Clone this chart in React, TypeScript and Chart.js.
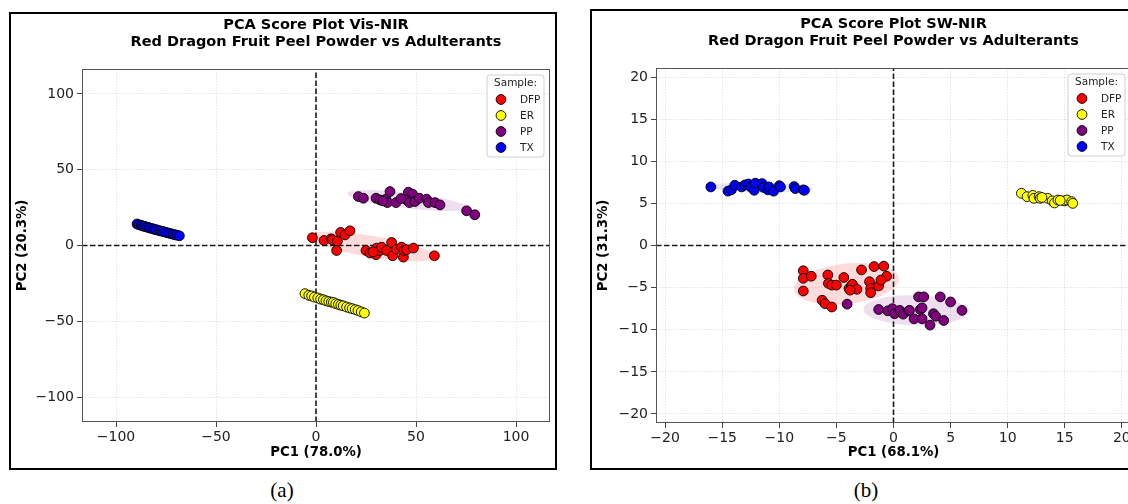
import React, { useEffect, useRef } from 'react';
import { Chart, registerables } from 'chart.js';

Chart.register(...registerables);

const FONT = "'DejaVu Sans', sans-serif";

const sampleNames = ['DFP', 'ER', 'PP', 'TX'];
const sampleColors = ['#ff0000', '#ffff00', '#800080', '#0000ff'];
const ellipseFills = ['rgba(255,0,0,0.14)', 'rgba(255,255,0,0.15)', 'rgba(128,0,128,0.13)', 'rgba(0,0,255,0.10)'];

// ---------- Panel (a): Vis-NIR ----------
const visTitle = ['PCA Score Plot Vis-NIR', 'Red Dragon Fruit Peel Powder vs Adulterants'];
const visXLabel = 'PC1 (78.0%)';
const visYLabel = 'PC2 (20.3%)';
const visXTicks = [-100, -50, 0, 50, 100];
const visYTicks = [-100, -50, 0, 50, 100];
const visXLim = [-117, 117];
const visYLim = [-116.5, 116.5];

const visDfpX = [-1.8, 4, 7.5, 8.2, 10.7, 10.3, 12.3, 14.5, 17, 25, 27, 30.3, 30, 32, 32.8, 35.3, 37.8, 38.3, 40.3, 42.8, 43.7, 44, 45.3, 48.7, 59.2, 28.5];
const visDfpY = [5.1, 3.3, 4.4, 3.8, 2.9, -3.3, 8.6, 7, 9.7, -3.3, -5, -1.7, -6.1, -3.3, -1.1, -3.3, 2, -6.8, -2.4, -1.1, -7.7, -3.3, -2.8, -1.7, -6.8, -4.2];
const visErX = [-5.5, -3.6, -2.2, -0.8, 0.9, 2.3, 3.7, 5.0, 6.4, 7.7, 8.7, 9.9, 11.2, 12.4, 13.6, 15.3, 16.8, 18.1, 19.6, 21.0, 22.6, 24.2];
const visErY = [-31.8, -32.9, -33.3, -34.1, -34.6, -35.4, -35.8, -36.5, -37.0, -37.4, -37.6, -38.4, -38.9, -39.4, -39.8, -40.6, -41.2, -41.7, -42.3, -42.9, -43.8, -44.6];
const visPpX = [21.2, 23.7, 30, 32, 35, 37, 35.7, 40, 46.2, 48.3, 45.3, 46.7, 49.5, 51.7, 55.3, 56.2, 59.5, 62, 75.3, 79.4, 33.5, 42.5];
const visPpY = [32.3, 31.2, 31.2, 30.1, 30.6, 35.6, 28.3, 28.3, 35.2, 33.9, 30.1, 28.3, 29, 31.2, 30.6, 28.3, 28.3, 26.8, 22.9, 20.3, 29.4, 31.0];
const visTxX = [-89.5, -88.4, -87.3, -86.5, -85.6, -84.6, -83.5, -82.8, -81.6, -80.7, -79.8, -78.6, -77.4, -76.3, -75.1, -74.0, -72.8, -71.6, -70.6, -69.5, -68.3];
const visTxY = [14.2, 13.6, 13.3, 12.8, 12.6, 12.1, 11.8, 11.4, 11.1, 10.6, 10.4, 9.9, 9.5, 9.2, 8.7, 8.3, 7.9, 7.5, 7.1, 6.8, 6.4];

// ---------- Panel (b): SW-NIR ----------
const swTitle = ['PCA Score Plot SW-NIR', 'Red Dragon Fruit Peel Powder vs Adulterants'];
const swXLabel = 'PC1 (68.1%)';
const swYLabel = 'PC2 (31.3%)';
const swXTicks = [-20, -15, -10, -5, 0, 5, 10, 15, 20];
const swYTicks = [-20, -15, -10, -5, 0, 5, 10, 15, 20];
const swXLim = [-20.8, 20.8];
const swYLim = [-21.07, 21.07];

const swDfpX = [-7.9, -7.9, -7.2, -7.9, -6.25, -6.0, -5.4, -5.75, -5.7, -5.4, -5.0, -4.35, -3.9, -3.7, -3.6, -3.2, -2.8, -2.1, -2.0, -1.7, -1.3, -0.85, -0.6, -1.1, -3.8, -2.0];
const swDfpY = [-3.0, -3.9, -3.65, -5.4, -6.5, -6.9, -7.3, -3.5, -4.5, -4.7, -4.7, -3.8, -5.1, -4.8, -4.6, -5.2, -2.9, -4.3, -5.1, -2.5, -4.8, -2.45, -3.65, -4.1, -5.3, -5.6];
const swErX = [11.2, 11.7, 12.2, 12.3, 12.75, 12.85, 13.5, 13.9, 14.1, 14.4, 14.95, 15.2, 15.6, 15.7, 13.0, 14.6];
const swErY = [6.2, 5.8, 5.95, 5.6, 5.8, 5.6, 5.6, 5.3, 5.05, 5.4, 5.3, 5.4, 5.2, 5.0, 5.7, 5.35];
const swPpX = [-4.06, -1.3, -0.5, -0.1, 0.1, 0.55, 0.85, 1.35, 1.8, 2.2, 2.35, 2.5, 2.65, 3.2, 3.5, 3.7, 4.1, 4.4, 5.0, 6.0, 2.5, 1.4];
const swPpY = [-6.96, -7.6, -7.75, -7.5, -8.1, -7.7, -8.15, -7.75, -8.7, -6.1, -7.6, -8.7, -6.1, -9.45, -8.1, -8.4, -6.1, -8.9, -6.7, -7.7, -7.4, -7.7];
const swTxX = [-16.0, -14.5, -14.2, -13.9, -13.3, -13.0, -12.7, -12.5, -12.2, -12.1, -11.5, -11.4, -11.0, -10.9, -10.5, -10.0, -9.9, -8.7, -8.6, -7.9, -7.8];
const swTxY = [6.95, 6.45, 6.6, 7.15, 6.95, 7.2, 7.3, 6.95, 6.55, 7.4, 7.35, 6.9, 6.6, 6.95, 6.45, 7.1, 6.95, 7.0, 6.75, 6.6, 6.55];

type Series = { x: number[]; y: number[] };
type PanelCfg = {
  title: string[];
  xLabel: string;
  yLabel: string;
  xTicks: number[];
  yTicks: number[];
  xLim: number[];
  yLim: number[];
  series: Series[];
  yAxisWidth: number;
  xAxisHeight: number;
  padTop: number;
};

const visCfg: PanelCfg = {
  title: visTitle, xLabel: visXLabel, yLabel: visYLabel,
  xTicks: visXTicks, yTicks: visYTicks, xLim: visXLim, yLim: visYLim,
  series: [
    { x: visDfpX, y: visDfpY },
    { x: visErX, y: visErY },
    { x: visPpX, y: visPpY },
    { x: visTxX, y: visTxY },
  ],
  yAxisWidth: 71, xAxisHeight: 46, padTop: 55,
};

const swCfg: PanelCfg = {
  title: swTitle, xLabel: swXLabel, yLabel: swYLabel,
  xTicks: swXTicks, yTicks: swYTicks, xLim: swXLim, yLim: swYLim,
  series: [
    { x: swDfpX, y: swDfpY },
    { x: swErX, y: swErY },
    { x: swPpX, y: swPpY },
    { x: swTxX, y: swTxY },
  ],
  yAxisWidth: 64, xAxisHeight: 45, padTop: 57,
};

const fmtTick = (v: any) => {
  const n = Number(v);
  return n < 0 ? '\u2212' + Math.abs(n) : String(n);
};

const N_STD = 2;
const POINT_R = 4.9;

function makeDecorPlugin(cfg: PanelCfg) {
  return {
    id: 'panelDecor',
    beforeDatasetsDraw(chart: any) {
      const { ctx, chartArea: ca } = chart;
      const xs = chart.scales.x;
      const ys = chart.scales.y;
      ctx.save();
      ctx.beginPath();
      ctx.rect(ca.left, ca.top, ca.right - ca.left, ca.bottom - ca.top);
      ctx.clip();
      // confidence ellipses derived from each series
      chart.data.datasets.forEach((ds: any, i: number) => {
        const pts = ds.data as { x: number; y: number }[];
        const n = pts.length;
        let mx = 0, my = 0;
        pts.forEach((p) => { mx += p.x; my += p.y; });
        mx /= n; my /= n;
        let sxx = 0, syy = 0, sxy = 0;
        pts.forEach((p) => {
          sxx += (p.x - mx) * (p.x - mx);
          syy += (p.y - my) * (p.y - my);
          sxy += (p.x - mx) * (p.y - my);
        });
        sxx /= n - 1; syy /= n - 1; sxy /= n - 1;
        const a = Math.sqrt(sxx);
        const b = sxy / a;
        const c = Math.sqrt(Math.max(syy - b * b, 0));
        ctx.beginPath();
        for (let k = 0; k <= 120; k++) {
          const t = (k / 120) * Math.PI * 2;
          const u = Math.cos(t), v = Math.sin(t);
          const dx = mx + N_STD * a * u;
          const dy = my + N_STD * (b * u + c * v);
          const px = xs.getPixelForValue(dx);
          const py = ys.getPixelForValue(dy);
          if (k === 0) ctx.moveTo(px, py); else ctx.lineTo(px, py);
        }
        ctx.closePath();
        ctx.fillStyle = ellipseFills[i];
        ctx.fill();
      });
      // zero reference lines
      const x0 = xs.getPixelForValue(0);
      const y0 = ys.getPixelForValue(0);
      ctx.setLineDash([5.5, 2.5]);
      ctx.lineWidth = 1.6;
      ctx.strokeStyle = '#1a1a1a';
      ctx.beginPath();
      ctx.moveTo(x0, ca.bottom);
      ctx.lineTo(x0, ca.top);
      ctx.stroke();
      ctx.beginPath();
      ctx.moveTo(ca.left, y0);
      ctx.lineTo(ca.right, y0);
      ctx.stroke();
      ctx.restore();
    },
    afterDatasetsDraw(chart: any) {
      const { ctx, chartArea: ca } = chart;
      ctx.save();
      // frame
      ctx.strokeStyle = '#555';
      ctx.lineWidth = 1;
      ctx.strokeRect(ca.left + 0.5, ca.top + 0.5, ca.right - ca.left - 1, ca.bottom - ca.top - 1);
      // legend
      const w = 57, h = 82;
      const lx = ca.right - 6 - w;
      const ly = ca.top + 6;
      const r = 3;
      ctx.beginPath();
      ctx.moveTo(lx + r, ly);
      ctx.lineTo(lx + w - r, ly);
      ctx.quadraticCurveTo(lx + w, ly, lx + w, ly + r);
      ctx.lineTo(lx + w, ly + h - r);
      ctx.quadraticCurveTo(lx + w, ly + h, lx + w - r, ly + h);
      ctx.lineTo(lx + r, ly + h);
      ctx.quadraticCurveTo(lx, ly + h, lx, ly + h - r);
      ctx.lineTo(lx, ly + r);
      ctx.quadraticCurveTo(lx, ly, lx + r, ly);
      ctx.closePath();
      ctx.fillStyle = 'rgba(255,255,255,0.85)';
      ctx.fill();
      ctx.strokeStyle = '#d0d0d0';
      ctx.lineWidth = 1;
      ctx.stroke();
      ctx.font = `10.5px ${FONT}`;
      ctx.fillStyle = '#222';
      ctx.textBaseline = 'middle';
      ctx.textAlign = 'center';
      ctx.fillText('Sample:', lx + w / 2, ly + 8);
      ctx.textAlign = 'left';
      sampleNames.forEach((name, i) => {
        const cy = ly + 24.5 + i * 16;
        ctx.beginPath();
        ctx.arc(lx + 14, cy, POINT_R, 0, Math.PI * 2);
        ctx.fillStyle = sampleColors[i];
        ctx.fill();
        ctx.lineWidth = 0.9;
        ctx.strokeStyle = '#000';
        ctx.stroke();
        ctx.fillStyle = '#222';
        ctx.fillText(name, lx + 33, cy + 0.5);
      });
      ctx.restore();
    },
    afterDraw(chart: any) {
      const { ctx, chartArea: ca } = chart;
      ctx.save();
      ctx.font = `bold 14.5px ${FONT}`;
      ctx.fillStyle = '#000';
      ctx.textAlign = 'center';
      ctx.textBaseline = 'middle';
      const cx = (ca.left + ca.right) / 2;
      ctx.fillText(cfg.title[0], cx, ca.top - 43.5);
      ctx.fillText(cfg.title[1], cx, ca.top - 26.5);
      ctx.restore();
    },
  };
}

function Panel({ cfg, left, top, width, height }: { cfg: PanelCfg; left: number; top: number; width: number; height: number }) {
  const ref = useRef<HTMLCanvasElement | null>(null);
  const cw = width - 4;
  const ch = height - 4;
  useEffect(() => {
    if (!ref.current) return;
    const zeroPad = (s: any) => {
      s.paddingLeft = 0; s.paddingRight = 0; s.paddingTop = 0; s.paddingBottom = 0;
    };
    const chart = new Chart(ref.current, {
      type: 'scatter',
      data: {
        datasets: sampleNames.map((name, i) => ({
          label: name,
          data: cfg.series[i].x.map((x, j) => ({ x, y: cfg.series[i].y[j] })),
          backgroundColor: sampleColors[i],
          borderColor: '#000',
          borderWidth: 0.9,
          pointRadius: POINT_R,
          pointHoverRadius: POINT_R,
        })),
      },
      options: {
        animation: false,
        responsive: false,
        events: [],
        layout: { autoPadding: false, padding: { top: cfg.padTop, left: 0, right: 5, bottom: 0 } },
        plugins: {
          legend: { display: false },
          title: { display: false },
          tooltip: { enabled: false },
        },
        scales: {
          x: {
            type: 'linear',
            min: cfg.xLim[0],
            max: cfg.xLim[1],
            afterBuildTicks: (s: any) => { s.ticks = cfg.xTicks.map((v) => ({ value: v })); },
            afterFit: (s: any) => { s.height = cfg.xAxisHeight; zeroPad(s); },
            ticks: { font: { family: FONT, size: 14 }, color: '#222', padding: 2, maxRotation: 0, autoSkip: false, callback: fmtTick },
            grid: { color: 'rgba(0,0,0,0.13)', lineWidth: 0.8, tickLength: 5, tickColor: '#444', tickWidth: 1 },
            border: { display: false, dash: [1.5, 1.5] },
            title: { display: true, text: cfg.xLabel, color: '#000', font: { family: FONT, size: 13.3, weight: 'bold' }, padding: { top: 0, bottom: 7 } },
          },
          y: {
            type: 'linear',
            min: cfg.yLim[0],
            max: cfg.yLim[1],
            afterBuildTicks: (s: any) => { s.ticks = cfg.yTicks.map((v) => ({ value: v })); },
            afterFit: (s: any) => { s.width = cfg.yAxisWidth; zeroPad(s); },
            ticks: { font: { family: FONT, size: 14 }, color: '#222', padding: 3, autoSkip: false, callback: fmtTick },
            grid: { color: 'rgba(0,0,0,0.13)', lineWidth: 0.8, tickLength: 5, tickColor: '#444', tickWidth: 1 },
            border: { display: false, dash: [1.5, 1.5] },
            title: { display: true, text: cfg.yLabel, color: '#000', font: { family: FONT, size: 13.3, weight: 'bold' }, padding: { top: 4, bottom: 0 } },
          },
        },
      } as any,
      plugins: [makeDecorPlugin(cfg)],
    });
    return () => chart.destroy();
  }, [cfg]);
  return (
    <div style={{ position: 'absolute', left, top, width, height, boxSizing: 'border-box', border: '2px solid #000', background: '#fff' }}>
      <canvas ref={ref} width={cw} height={ch} style={{ display: 'block', width: cw, height: ch }} />
    </div>
  );
}

const captionStyle: React.CSSProperties = {
  position: 'absolute',
  top: 477,
  width: 100,
  textAlign: 'center',
  fontFamily: "'Liberation Serif', 'Times New Roman', serif",
  fontSize: 21,
  lineHeight: '26px',
  color: '#000',
};

export default function App() {
  return (
    <div style={{ position: 'fixed', left: 0, top: 0, width: 1128, height: 504, overflow: 'hidden', background: '#fff' }}>
      <Panel cfg={visCfg} left={9} top={12} width={548} height={458} />
      <Panel cfg={swCfg} left={590} top={9} width={548} height={461} />
      <div style={{ ...captionStyle, left: 232 }}>(a)</div>
      <div style={{ ...captionStyle, left: 816 }}>(b)</div>
    </div>
  );
}
